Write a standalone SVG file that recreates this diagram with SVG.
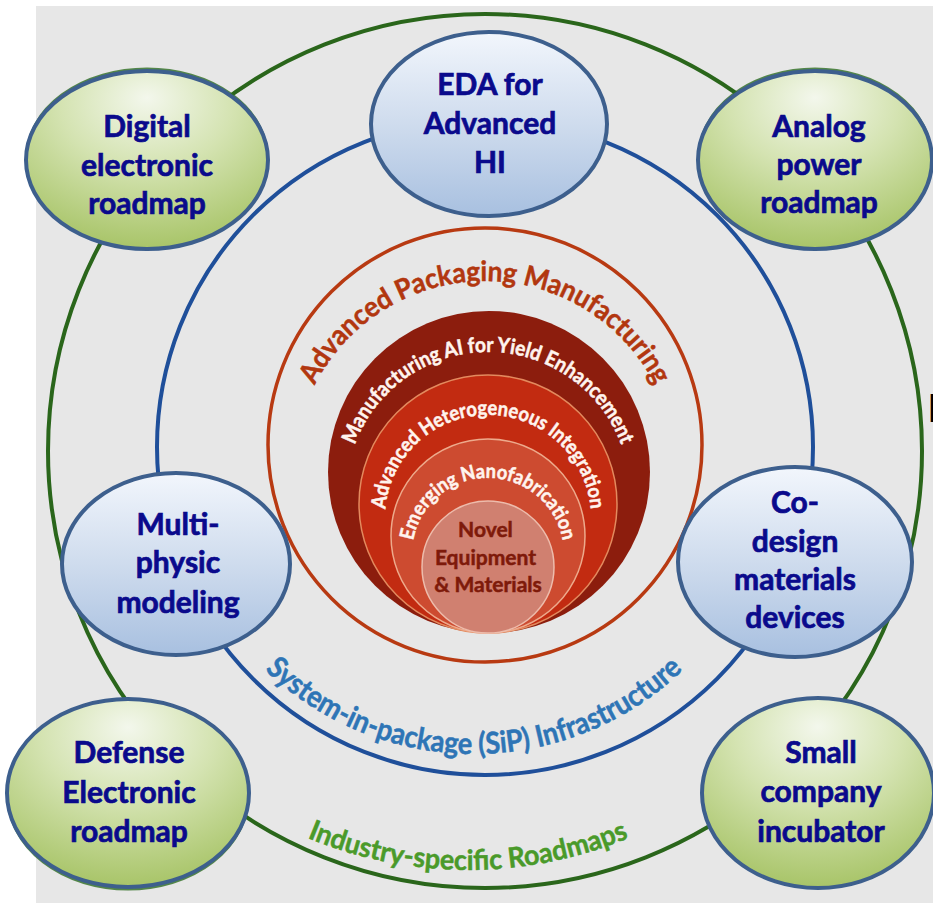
<svg xmlns="http://www.w3.org/2000/svg" width="933" height="903" viewBox="0 0 933 903">
  <defs>
    <radialGradient id="gGreen" cx="50%" cy="22%" r="80%" fx="50%" fy="15%">
      <stop offset="0" stop-color="#F3F7EC"/>
      <stop offset="0.45" stop-color="#D4E3B1"/>
      <stop offset="1" stop-color="#A6C365"/>
    </radialGradient>
    <linearGradient id="gBlue" x1="0" y1="0" x2="0" y2="1">
      <stop offset="0" stop-color="#F2F6FC"/>
      <stop offset="0.55" stop-color="#CBD9EC"/>
      <stop offset="1" stop-color="#A8C0E0"/>
    </linearGradient>
    <!-- baseline arcs for the curved ring labels -->
    <path id="arcApm" d="M 349.9,607.1 A 191 191 0 1 1 620.1,607.1"/>
    <path id="arcMfg" d="M 387.6,594.4 A 142 142 0 1 1 588.4,594.4"/>
    <path id="arcHet" d="M 415.2,590.8 A 103 103 0 1 1 560.8,590.8"/>
    <path id="arcNano" d="M 434.3,607.7 A 76 76 0 1 1 541.7,607.7"/>
    <path id="arcSip" d="M 190.2,555.3 A 302 302 0 0 0 757.8,555.3"/>
    <path id="arcInd" d="M 199.3,772.2 A 418 418 0 0 0 736.7,772.2"/>
    <style>
      .node-green { fill: url(#gGreen); stroke: #3D5F8D; stroke-width: 4; }
      .node-blue { fill: url(#gBlue); stroke: #3D5F8D; stroke-width: 4; }
      .halo { fill: none; stroke: #2E6E22; stroke-width: 3; opacity: 0.8; }
      .label { font-family: Lato, "Open Sans", "Liberation Sans", sans-serif; font-weight: 700; font-size: 30px; fill: #0A0A8C; stroke: #0A0A8C; stroke-width: 0.7; text-anchor: middle; }
      .ring-label { font-family: Lato, "Open Sans", "Liberation Sans", sans-serif; font-weight: 700; text-anchor: middle; stroke-width: 0.5; }
    </style>
  </defs>

  <!-- backdrop -->
  <rect x="0" y="0" width="933" height="903" fill="#FFFFFF"/>
  <rect x="36" y="6" width="897" height="897" fill="#E7E7E7"/>
  <text x="927" y="422" font-family="Liberation Sans, sans-serif" font-size="40" fill="#000000">I</text>

  <!-- concentric rings -->
  <g id="rings" fill="none">
    <circle cx="485" cy="451" r="437" stroke="#2A661B" stroke-width="4"/>
    <circle cx="485" cy="447" r="328" stroke="#1F4F9A" stroke-width="4"/>
    <circle cx="485" cy="445" r="217" stroke="#B83A12" stroke-width="3.5"/>
  </g>

  <!-- nested manufacturing core -->
  <g id="core">
    <circle cx="489" cy="472" r="161" fill="#8C1D0D"/>
    <circle cx="488" cy="504" r="129" fill="#C22B11" stroke="#E38A5E" stroke-width="1.5"/>
    <circle cx="488" cy="536" r="97" fill="#CD4B30" stroke="#EDAA8C" stroke-width="1.5"/>
    <circle cx="488" cy="567" r="66" fill="#D08070" stroke="#EDBCAC" stroke-width="1.5"/>
    <text class="ring-label" font-size="21" fill="#7E1A0A" stroke="#7E1A0A">
      <tspan x="488" y="537">Novel</tspan>
      <tspan x="488" y="565">Equipment</tspan>
      <tspan x="488" y="592">&amp; Materials</tspan>
    </text>
  </g>

  <!-- curved ring labels -->
  <g id="ring-labels">
    <text class="ring-label" font-size="28" fill="#B2370F" stroke="#B2370F"><textPath href="#arcApm" startOffset="50%" textLength="420" lengthAdjust="spacingAndGlyphs">Advanced Packaging Manufacturing</textPath></text>
    <text class="ring-label" font-size="21" fill="#FFF4EE" stroke="#FFF4EE"><textPath href="#arcMfg" startOffset="50%" textLength="346" lengthAdjust="spacingAndGlyphs">Manufacturing AI for Yield Enhancement</textPath></text>
    <text class="ring-label" font-size="20.5" fill="#FFF4EE" stroke="#FFF4EE"><textPath href="#arcHet" startOffset="50%" textLength="306" lengthAdjust="spacingAndGlyphs">Advanced Heterogeneous Integration</textPath></text>
    <text class="ring-label" font-size="20" fill="#FFF4EE" stroke="#FFF4EE"><textPath href="#arcNano" startOffset="50%" textLength="212" lengthAdjust="spacingAndGlyphs">Emerging Nanofabrication</textPath></text>
    <text class="ring-label" font-size="30" fill="#2E75B6" stroke="#2E75B6"><textPath href="#arcSip" startOffset="50%" textLength="462" lengthAdjust="spacingAndGlyphs">System-in-package (SiP) Infrastructure</textPath></text>
    <text class="ring-label" font-size="28" fill="#4A9A2A" stroke="#4A9A2A"><textPath href="#arcInd" startOffset="50%" textLength="330" lengthAdjust="spacingAndGlyphs">Industry-specific Roadmaps</textPath></text>
  </g>

  <!-- roadmap and capability nodes -->
  <g id="n-digital">
    <ellipse class="halo" cx="147" cy="157" rx="120" ry="88"/>
    <ellipse class="node-green" cx="147" cy="160" rx="121" ry="89"/>
    <text class="label"><tspan x="147" y="137">Digital</tspan><tspan x="147" y="176">electronic</tspan><tspan x="147" y="214">roadmap</tspan></text>
  </g>
  <g id="n-eda">
    <ellipse class="node-blue" cx="489" cy="124" rx="118" ry="92"/>
    <text class="label"><tspan x="490" y="95">EDA for</tspan><tspan x="490" y="134">Advanced</tspan><tspan x="490" y="173">HI</tspan></text>
  </g>
  <g id="n-analog">
    <ellipse class="halo" cx="815" cy="157" rx="116" ry="88"/>
    <ellipse class="node-green" cx="815" cy="160" rx="117" ry="89"/>
    <text class="label"><tspan x="819" y="137">Analog</tspan><tspan x="819" y="175">power</tspan><tspan x="819" y="213">roadmap</tspan></text>
  </g>
  <g id="n-multi">
    <ellipse class="node-blue" cx="176" cy="564" rx="114" ry="91"/>
    <text class="label"><tspan x="178" y="535">Multi-</tspan><tspan x="178" y="573">physic</tspan><tspan x="178" y="613">modeling</tspan></text>
  </g>
  <g id="n-codesign">
    <ellipse class="node-blue" cx="795" cy="562" rx="117" ry="95"/>
    <text class="label"><tspan x="795" y="513">Co-</tspan><tspan x="795" y="552">design</tspan><tspan x="795" y="590">materials</tspan><tspan x="795" y="628">devices</tspan></text>
  </g>
  <g id="n-defense">
    <ellipse class="halo" cx="128" cy="796" rx="120" ry="93"/>
    <ellipse class="node-green" cx="128" cy="793" rx="121" ry="94"/>
    <text class="label"><tspan x="129" y="763">Defense</tspan><tspan x="129" y="803">Electronic</tspan><tspan x="129" y="842">roadmap</tspan></text>
  </g>
  <g id="n-small">
    <ellipse class="node-green" cx="818" cy="793" rx="116" ry="95"/>
    <text class="label"><tspan x="821" y="763">Small</tspan><tspan x="821" y="802">company</tspan><tspan x="821" y="842">incubator</tspan></text>
  </g>
</svg>
